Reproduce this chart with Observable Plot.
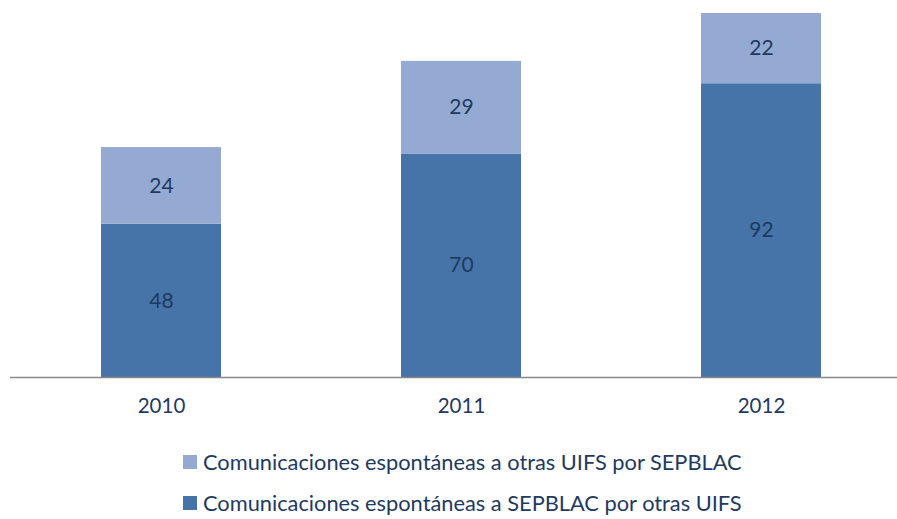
<!DOCTYPE html>
<html>
<head>
<meta charset="utf-8">
<script src="https://cdn.jsdelivr.net/npm/d3@7"></script>
<script src="https://cdn.jsdelivr.net/npm/@observablehq/plot@0.6"></script>
<style>
  html, body { margin: 0; padding: 0; background: #fff; }
  #chart svg { display: block; }
  .legend { font-family: Lato, "Open Sans", sans-serif; font-size: 21.8px; color: #1f3a5f; padding-left: 183px; margin-top: 11px; }
  .legend .item { display: flex; align-items: center; height: 41px; white-space: nowrap; }
  .legend .sw { width: 14px; height: 14px; margin-right: 6px; flex: none; }
</style>
</head>
<body>
<div id="chart"></div>
<div class="legend" id="legend"></div>
<script>
const years = ["2010", "2011", "2012"];
const recibidas = [48, 70, 92];   // Comunicaciones espontáneas a SEPBLAC por otras UIFS
const enviadas = [24, 29, 22];    // Comunicaciones espontáneas a otras UIFS por SEPBLAC
const seriesNames = [
  "Comunicaciones espontáneas a otras UIFS por SEPBLAC",
  "Comunicaciones espontáneas a SEPBLAC por otras UIFS"
];
const colors = ["#95aad2", "#4673a8"];

const data = [];
years.forEach((y, i) => {
  data.push({year: y, serie: seriesNames[1], value: recibidas[i], order: 0});
  data.push({year: y, serie: seriesNames[0], value: enviadas[i], order: 1});
});

const textColor = "#1f3a5f";
const plot = Plot.plot({
  width: 897,
  height: 430,
  marginLeft: 10,
  marginRight: 0,
  marginTop: 13,
  marginBottom: 53,
  style: {fontFamily: "Lato, 'Open Sans', sans-serif", fontSize: "20.5px", color: textColor, background: "white"},
  x: {domain: years, range: [10, 911], paddingInner: 0.6, paddingOuter: 0.3, label: null, tickSize: 0, tickPadding: 21},
  y: {domain: [0, 114], axis: null},
  color: {domain: seriesNames, range: colors},
  marks: [
    Plot.barY(data, Plot.stackY({x: "year", y: "value", fill: "serie", order: "order"})),
    Plot.text(data, Plot.stackY({x: "year", y: "value", order: "order", text: d => String(d.value), fill: textColor, fontSize: 21})),
    Plot.ruleY([0], {stroke: "#888888", strokeWidth: 1.5})
  ]
});
document.getElementById("chart").appendChild(plot);

const legend = document.getElementById("legend");
seriesNames.forEach((name, i) => {
  const item = document.createElement("div");
  item.className = "item";
  const sw = document.createElement("span");
  sw.className = "sw";
  sw.style.background = colors[i];
  const label = document.createElement("span");
  label.textContent = name;
  item.appendChild(sw);
  item.appendChild(label);
  legend.appendChild(item);
});
</script>
</body>
</html>
